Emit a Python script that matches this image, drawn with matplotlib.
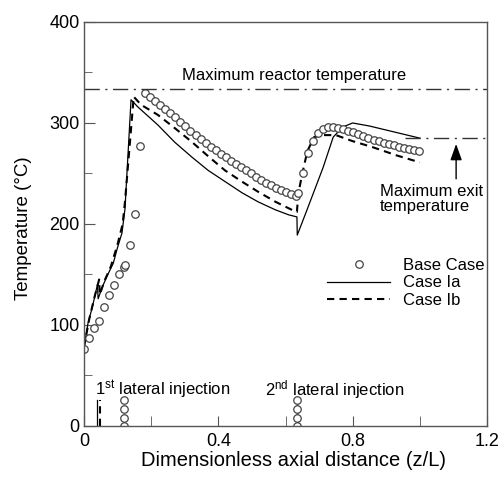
import matplotlib
matplotlib.use("Agg")
import matplotlib.pyplot as plt
from matplotlib.ticker import MultipleLocator

plt.rcParams['font.family'] = ['Liberation Sans', 'DejaVu Sans']
plt.rcParams['mathtext.default'] = 'regular'

# Base Case (circles)
base_x = [0.0, 0.015, 0.03, 0.045, 0.06, 0.075, 0.09, 0.105, 0.118, 0.122, 0.137, 0.152, 0.167,
          0.182, 0.197, 0.212, 0.227, 0.242, 0.257, 0.272, 0.287, 0.302, 0.317, 0.332, 0.347,
          0.362, 0.377, 0.392, 0.407, 0.422, 0.437, 0.452, 0.467, 0.482, 0.497, 0.512, 0.527,
          0.542, 0.557, 0.572, 0.587, 0.602, 0.617, 0.632,
          0.637, 0.652, 0.667, 0.682, 0.697, 0.712, 0.727, 0.742, 0.757, 0.772, 0.787, 0.802,
          0.817, 0.832, 0.847, 0.862, 0.877, 0.892, 0.907, 0.922, 0.937, 0.952, 0.967, 0.982, 0.997]
base_T = [76, 87, 97, 104, 118, 130, 140, 150, 157, 159, 179, 210, 277,
          330, 326, 322, 318, 314, 310, 306, 301, 297, 292, 288, 284,
          280, 276, 273, 269, 266, 262, 259, 256, 253, 250, 247, 244,
          241, 239, 236, 234, 232, 230, 228,
          231, 250, 270, 282, 290, 294, 296, 296, 295, 294, 292, 291,
          289, 287, 285, 283, 282, 280, 279, 278, 276, 275, 274, 273, 272]

# Case Ia (solid)
ia_x = [0.0, 0.012, 0.025, 0.04, 0.042, 0.055, 0.068, 0.087, 0.1, 0.113, 0.122, 0.14, 0.16, 0.18,
        0.22, 0.27, 0.322, 0.37, 0.42, 0.47, 0.518, 0.57, 0.61, 0.634, 0.635, 0.664, 0.712,
        0.742, 0.77, 0.8, 0.85, 0.9, 0.95, 1.0]
ia_T = [78, 102, 118, 140, 126, 138, 148, 161, 177, 191, 215, 323, 316, 310,
        298, 281, 266, 253, 242, 231, 222, 214, 209, 207, 189, 214, 256,
        286, 296, 300, 297, 293, 289, 285]

# Case Ib (dashed)
ib_x = [0.0, 0.015, 0.03, 0.045, 0.047, 0.06, 0.08, 0.1, 0.115, 0.122, 0.148, 0.17, 0.22, 0.27,
        0.322, 0.37, 0.42, 0.47, 0.518, 0.57, 0.619, 0.634, 0.638, 0.65, 0.665, 0.685, 0.71,
        0.75, 0.8, 0.86, 0.93, 1.0]
ib_T = [78, 105, 126, 145, 130, 143, 158, 180, 200, 222, 326, 318, 308, 295,
        281, 267, 253, 242, 232, 222, 214, 212, 230, 250, 272, 286, 288,
        288, 282, 276, 268, 261]

# Injection markers
inj_T = [0, 8, 17, 26]
inj1_circle_x = 0.12
inj1_solid_x = 0.038
inj1_dash_x = 0.048
inj2_x = 0.634

max_reactor_T = 334
max_exit_T = 285

fig = plt.figure(figsize=(5.04, 4.78), dpi=100)
ax = fig.add_axes([0.1667, 0.1088, 0.7996, 0.8452])

gray = '#555555'
ax.plot(ia_x, ia_T, color='black', lw=0.9, label='Case Ia')
ax.plot(ib_x, ib_T, color='black', lw=1.5, ls=(0, (3.5, 2.5)), label='Case Ib')
ax.plot(base_x, base_T, ls='none', marker='o', ms=5.4, mfc='white', mec='#444444',
        mew=0.9, label='Base Case')

# injection indicators
ax.plot([inj1_solid_x, inj1_solid_x], [inj_T[0], inj_T[-1]], color='black', lw=0.9)
ax.plot([inj1_dash_x, inj1_dash_x], [inj_T[0], inj_T[-1]], color='black', lw=1.5, ls=(0, (3.5, 2.5)))
ax.plot([inj1_circle_x] * len(inj_T), inj_T, ls='none', marker='o', ms=5.4, mfc='white',
        mec='#444444', mew=0.9)
ax.plot([inj2_x, inj2_x], [inj_T[0], inj_T[-1]], color='black', lw=0.9)
ax.plot([inj2_x + 0.002, inj2_x + 0.002], [inj_T[0], inj_T[-1]], color='black', lw=1.5,
        ls=(0, (3.5, 2.5)))
ax.plot([inj2_x] * len(inj_T), inj_T, ls='none', marker='o', ms=5.4, mfc='white',
        mec='#444444', mew=0.9)

# reference lines
dd = (0, (11, 4, 1.5, 4))
ax.plot([0, 1.2], [max_reactor_T, max_reactor_T], color='#333333', lw=1.0, ls=dd)
ax.plot([0.955, 1.2], [max_exit_T, max_exit_T], color='#333333', lw=1.0, ls=dd)

fs = 12
ax.text(0.624, 347.5, 'Maximum reactor temperature', ha='center', va='center', fontsize=fs)
ax.text(0.881, 225, 'Maximum exit\ntemperature', ha='left', va='center', fontsize=fs,
        linespacing=1.0)
ax.annotate('', xy=(1.108, 282), xytext=(1.108, 242),
            arrowprops=dict(arrowstyle='-|>,head_length=0.7,head_width=0.25', color='black',
                            lw=1.0, mutation_scale=14))

ax.text(0.033, 36, '1$^{st}$ lateral injection', ha='left', va='center', fontsize=fs)
ax.text(0.539, 36, '2$^{nd}$ lateral injection', ha='left', va='center', fontsize=fs)

handles, labels = ax.get_legend_handles_labels()
order = [2, 0, 1]
ax.legend([handles[i] for i in order], [labels[i] for i in order], loc='center left',
          bbox_to_anchor=(0.603, 0.354), frameon=False, fontsize=fs, borderpad=0,
          borderaxespad=0, handlelength=3.8, handletextpad=0.78, labelspacing=0.17)

ax.set_xlim(0, 1.2)
ax.set_ylim(0, 400)
ax.xaxis.set_major_locator(MultipleLocator(0.4))
ax.xaxis.set_minor_locator(MultipleLocator(0.2))
ax.yaxis.set_major_locator(MultipleLocator(100))
ax.yaxis.set_minor_locator(MultipleLocator(50))
ax.set_xticks([0, 0.4, 0.8, 1.2])
ax.set_xticklabels(['0', '0.4', '0.8', '1.2'])
ax.tick_params(which='both', direction='in', color=gray, labelsize=13)
ax.tick_params(axis='x', which='both', length=7, pad=5)
ax.tick_params(axis='y', which='major', length=8, pad=3)
ax.tick_params(axis='y', which='minor', length=6)
for s in ax.spines.values():
    s.set_color(gray)
    s.set_linewidth(1.0)

ax.set_xlabel('Dimensionless axial distance (z/L)', fontsize=14.5)
ax.set_ylabel('Temperature (°C)', fontsize=13.5)
ax.xaxis.set_label_coords(0.52, -0.062)
ax.yaxis.set_label_coords(-0.13, 0.49)

fig.savefig('out.png', dpi=100)
